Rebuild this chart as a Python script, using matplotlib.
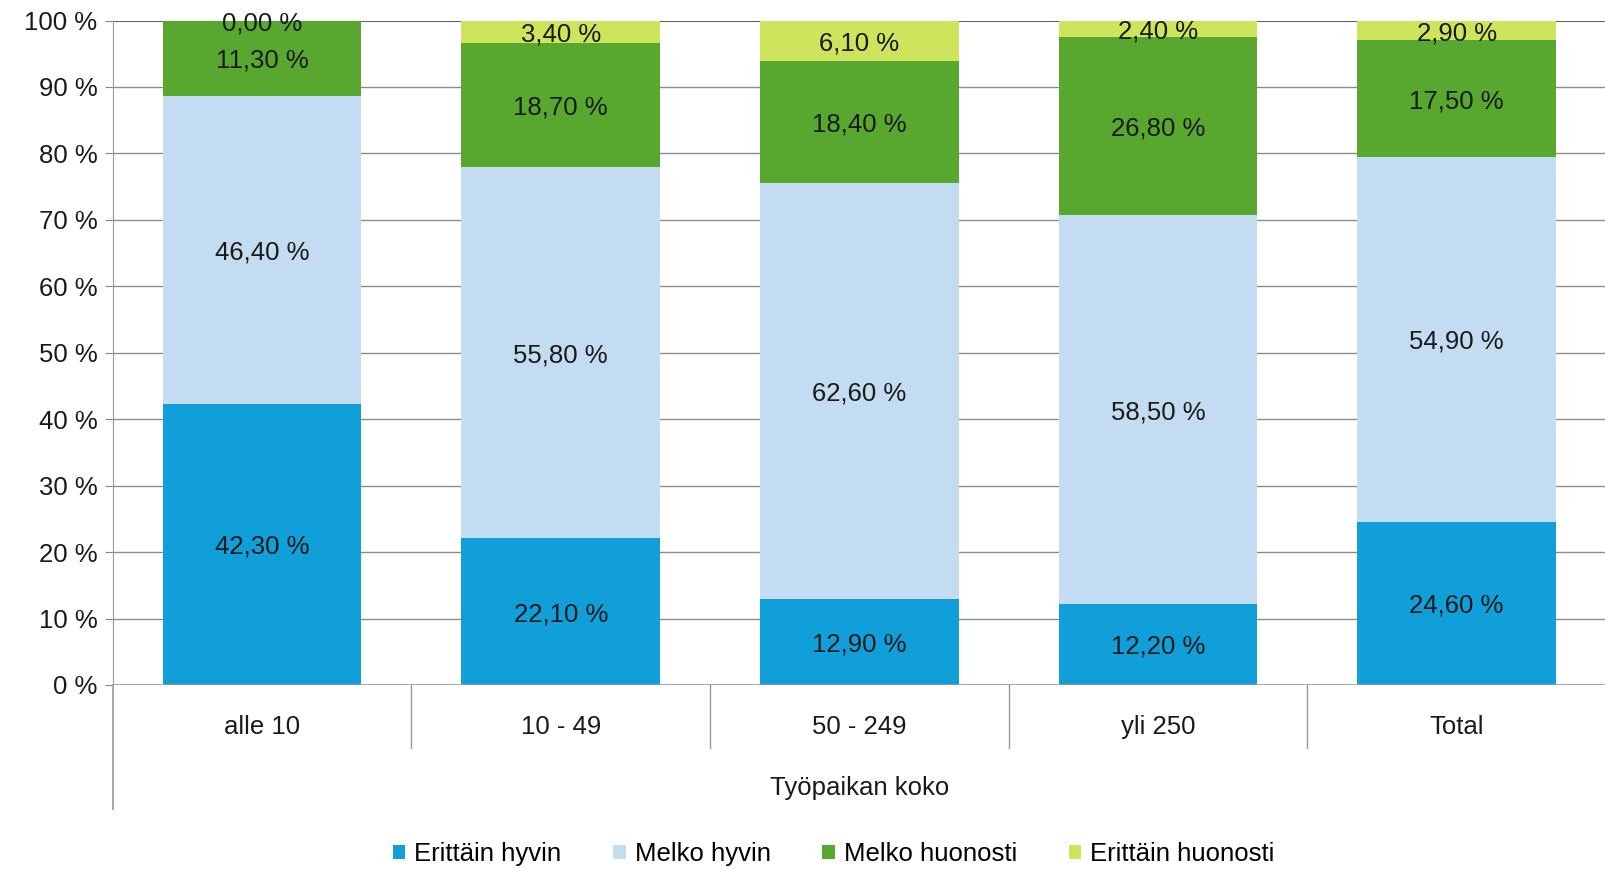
import matplotlib.pyplot as plt
import numpy as np

plt.rcParams['font.family'] = ['Liberation Sans', 'DejaVu Sans']

# ========== Data ==========
categories = ["alle 10", "10 - 49", "50 - 249", "yli 250", "Total"]
series_names = ["Erittäin hyvin", "Melko hyvin", "Melko huonosti", "Erittäin huonosti"]
erittain_hyvin = [42.3, 22.1, 12.9, 12.2, 24.6]
melko_hyvin = [46.4, 55.8, 62.6, 58.5, 54.9]
melko_huonosti = [11.3, 18.7, 18.4, 26.8, 17.5]
erittain_huonosti = [0.0, 3.4, 6.1, 2.4, 2.9]
colors = ["#119fd9", "#c4dcf1", "#58a82f", "#cee45c"]
x_title = "Työpaikan koko"

FS = 18.5
W, H = 1606, 869
fig = plt.figure(figsize=(W / 100, H / 100), dpi=100)
ax = fig.add_axes([112.7 / W, 1 - 685 / H, 1 - 112.7 / W, (685 - 20.5) / H])

x = np.arange(len(categories))
bottom = np.zeros(len(categories))
for name, vals, c in zip(series_names,
                         [erittain_hyvin, melko_hyvin, melko_huonosti, erittain_huonosti],
                         colors):
    vals = np.array(vals)
    ax.bar(x, vals, bottom=bottom, width=0.665, color=c, label=name, zorder=2)
    for xi, b, v in zip(x, bottom, vals):
        ax.text(xi, b + v / 2, f"{v:.2f} %".replace(".", ","), ha="center",
                va="center_baseline", fontsize=FS, color="#1a1a1a", zorder=3)
    bottom += vals

ax.set_xlim(-0.5, len(categories) - 0.5)
ax.set_ylim(0, 100)
ax.set_yticks(np.arange(0, 101, 10))
ax.set_yticklabels([f"{v} %" for v in range(0, 101, 10)], fontsize=FS, color="#1a1a1a")
ax.tick_params(axis="y", length=6, color="#888888", pad=5)
ax.set_xticks([])

# gridlines
for v in range(10, 100, 10):
    ax.axhline(v, color="#8c8c8c", lw=1, zorder=1)
ax.axhline(100, color="#404040", lw=1.2, zorder=1)

for s in ["top", "right", "bottom"]:
    ax.spines[s].set_visible(False)
ax.spines["left"].set_color("#999999")
ax.axhline(0, color="#999999", lw=1.2, zorder=3)

# left axis line extended down, category separators
ax_h = 685 - 20.5
ax.plot([0, 0], [0, -(809 - 685) / ax_h], transform=ax.transAxes, color="#999999",
        lw=1.2, clip_on=False)
for i in range(1, len(categories)):
    xf = i / len(categories)
    ax.plot([xf, xf], [0, -(748 - 685) / ax_h], transform=ax.transAxes,
            color="#999999", lw=1, clip_on=False)

for xi, lab in zip(x, categories):
    ax.text(xi, -(727 - 685) / ax_h * 100, lab, ha="center", va="center",
            fontsize=FS, color="#1a1a1a")
ax.text(2.0, -(788 - 685) / ax_h * 100, x_title, ha="center", va="center",
        fontsize=FS, color="#1a1a1a")

fig.legend(loc="center", bbox_to_anchor=(814 / 1568, 1 - 854 / H), ncol=4, frameon=False,
           fontsize=FS, handlelength=0.5, handleheight=0.5, handletextpad=0.35,
           columnspacing=2.0)

fig.savefig("out.png", dpi=100)
